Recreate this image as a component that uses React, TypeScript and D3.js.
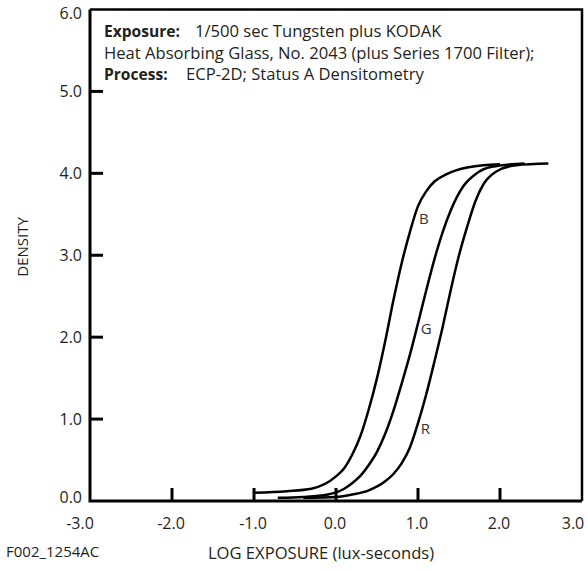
import React, { useEffect, useRef } from 'react';
import * as d3 from 'd3';

// tick values + labels
const logETicks = [-3, -2, -1, 0, 1, 2, 3];
const logELabels = ['-3.0', '-2.0', '-1.0', '0.0', '1.0', '2.0', '3.0'];
const densityTicks = [0, 1, 2, 3, 4, 5, 6];
const densityLabels = ['0.0', '1.0', '2.0', '3.0', '4.0', '5.0', '6.0'];

// characteristic curves, [log exposure, density]
const blueCurve: [number, number][] = [
  [-1.0, 0.10], [-0.6, 0.12], [-0.3, 0.15], [0.0, 0.30], [0.1, 0.40], [0.2, 0.57],
  [0.3, 0.80], [0.4, 1.12], [0.5, 1.5], [0.6, 1.95], [0.7, 2.45], [0.8, 2.9],
  [0.9, 3.28], [1.0, 3.6], [1.1, 3.78], [1.2, 3.9], [1.35, 3.99], [1.6, 4.07], [2.0, 4.11],
];
const greenCurve: [number, number][] = [
  [-0.71, 0.04], [-0.4, 0.05], [-0.1, 0.08], [0.1, 0.15], [0.2, 0.22], [0.3, 0.31],
  [0.4, 0.44], [0.5, 0.6], [0.6, 0.82], [0.7, 1.1], [0.8, 1.43], [0.9, 1.78],
  [1.0, 2.17], [1.1, 2.57], [1.2, 2.95], [1.3, 3.28], [1.4, 3.55], [1.55, 3.84],
  [1.7, 3.99], [1.9, 4.08], [2.3, 4.12],
];
const redCurve: [number, number][] = [
  [-0.4, 0.04], [0.0, 0.05], [0.2, 0.08], [0.4, 0.13], [0.6, 0.24], [0.7, 0.33],
  [0.8, 0.46], [0.9, 0.65], [1.0, 0.95], [1.1, 1.3], [1.2, 1.7], [1.3, 2.12],
  [1.4, 2.58], [1.5, 3.0], [1.6, 3.35], [1.7, 3.66], [1.8, 3.87], [1.95, 4.02],
  [2.2, 4.1], [2.59, 4.12],
];
const curveNames = ['B', 'G', 'R'];
// where each curve letter sits, [log exposure, density]
const curveLabelPos: [number, number][] = [[1.07, 3.45], [1.1, 2.1], [1.09, 0.88]];

const infoLines = [
  { bold: 'Exposure:', text: '1/500 sec Tungsten plus KODAK' },
  { bold: '', text: 'Heat Absorbing Glass, No. 2043 (plus Series 1700 Filter);' },
  { bold: 'Process:', text: 'ECP-2D; Status A Densitometry' },
];

export default function App() {
  const svgRef = useRef<SVGSVGElement>(null);

  useEffect(() => {
    const width = 588;
    const height = 571;
    const left = 90, right = 582, top = 9.5, bottom = 501;
    const ink = '#231f20';
    const font = '"Open Sans", sans-serif';

    const svg = d3.select(svgRef.current)
      .attr('width', width)
      .attr('height', height)
      .style('background', '#fff');
    svg.selectAll('*').remove();

    const x = d3.scaleLinear().domain([-3, 3]).range([left, right]);
    const y = d3.scaleLinear().domain([0, 6]).range([bottom, top]);

    // frame: top + right thinner, axes thicker
    svg.append('path')
      .attr('d', `M${x(-3)},${y(6)}H${x(3)}V${y(0)}`)
      .attr('fill', 'none').attr('stroke', '#000').attr('stroke-width', 2.5);
    svg.append('path')
      .attr('d', `M${x(-3)},${y(6)}V${y(0)}H${x(3)}`)
      .attr('fill', 'none').attr('stroke', '#000').attr('stroke-width', 3);

    // ticks point inward
    svg.selectAll('.xtick')
      .data(logETicks.slice(1, -1))
      .join('line')
      .attr('x1', d => x(d)).attr('x2', d => x(d))
      .attr('y1', y(0)).attr('y2', y(0) - 13)
      .attr('stroke', '#000').attr('stroke-width', 3);
    svg.selectAll('.ytick')
      .data(densityTicks.slice(1, -1))
      .join('line')
      .attr('x1', x(-3)).attr('x2', x(-3) + 13)
      .attr('y1', d => y(d)).attr('y2', d => y(d))
      .attr('stroke', '#000').attr('stroke-width', 3);

    // tick labels
    svg.selectAll('.xlab')
      .data(logETicks)
      .join('text')
      .attr('x', (d, i) => x(d) + (i === 0 ? -10 : i === logETicks.length - 1 ? -9 : -1))
      .attr('y', 523)
      .attr('dy', '0.35em')
      .attr('text-anchor', 'middle')
      .attr('font-family', font).attr('font-size', 16).attr('fill', ink)
      .text((d, i) => logELabels[i]);
    svg.selectAll('.ylab')
      .data(densityTicks)
      .join('text')
      .attr('x', 82)
      .attr('y', d => y(d) + (d === 0 ? -4 : d === 6 ? 4 : 0))
      .attr('dy', '0.35em')
      .attr('text-anchor', 'end')
      .attr('font-family', font).attr('font-size', 16).attr('fill', ink)
      .text((d, i) => densityLabels[i]);

    // axis titles
    svg.append('text')
      .attr('x', 321).attr('y', 553).attr('dy', '0.35em')
      .attr('text-anchor', 'middle')
      .attr('font-family', font).attr('font-size', 16.6).attr('fill', ink)
      .text('LOG EXPOSURE (lux-seconds)');
    svg.append('text')
      .attr('transform', 'translate(23,247) rotate(-90)')
      .attr('dy', '0.35em')
      .attr('text-anchor', 'middle')
      .attr('font-family', font).attr('font-size', 15).attr('fill', ink)
      .text('DENSITY');
    svg.append('text')
      .attr('x', 6).attr('y', 552).attr('dy', '0.35em')
      .attr('font-family', font).attr('font-size', 15).attr('fill', ink)
      .text('F002_1254AC');

    // exposure / process notes
    const info = svg.append('g')
      .attr('font-family', font).attr('font-size', 16.6).attr('fill', ink);
    infoLines.forEach((ln, i) => {
      const t = info.append('text').attr('x', 104).attr('y', 37 + i * 21.5);
      if (ln.bold) {
        t.append('tspan').attr('font-weight', 'bold').attr('font-size', 15.6).text(ln.bold);
        t.append('tspan').attr('x', i === 0 ? 195 : 186).text(ln.text);
      } else {
        t.text(ln.text);
      }
    });

    // curves
    const line = d3.line<[number, number]>()
      .x(d => x(d[0]))
      .y(d => y(d[1]))
      .curve(d3.curveMonotoneX);
    svg.selectAll('.curve')
      .data([blueCurve, greenCurve, redCurve])
      .join('path')
      .attr('d', d => line(d))
      .attr('fill', 'none')
      .attr('stroke', '#000')
      .attr('stroke-width', 2.5);

    svg.selectAll('.clab')
      .data(curveNames)
      .join('text')
      .attr('x', (d, i) => x(curveLabelPos[i][0]))
      .attr('y', (d, i) => y(curveLabelPos[i][1]))
      .attr('dy', '0.35em')
      .attr('text-anchor', 'middle')
      .attr('font-family', font).attr('font-size', 15).attr('fill', '#333')
      .text(d => d);
  }, []);

  return (
    <div>
      <svg ref={svgRef} style={{ position: 'absolute', left: 0, top: 0 }}></svg>
    </div>
  );
}
